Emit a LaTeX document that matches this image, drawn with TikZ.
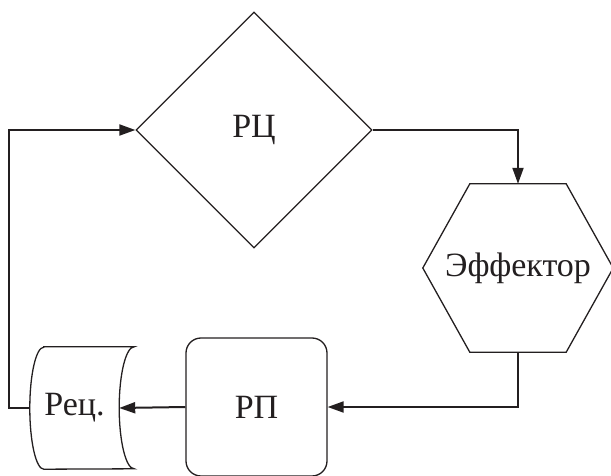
\documentclass[tikz,border=0pt]{standalone}
\usepackage{fontspec}
\setmainfont{Liberation Serif}
\usetikzlibrary{shapes.geometric,arrows.meta,calc}
\definecolor{ink}{HTML}{231F20}
\begin{document}
\begin{tikzpicture}[x=1pt,y=1pt,
  lbl/.style={font=\fontsize{34}{40}\selectfont,text=ink},
  shp/.style={lbl,draw=ink,line width=1.3pt,inner sep=0pt},
  outl/.style={draw=ink,line width=1.3pt},
  conn/.style={draw=ink,line width=2pt,-{Triangle[length=16pt,width=11pt]}}]
\useasboundingbox (0,0) rectangle (611,475);
\node[shp,diamond,minimum width=236pt,minimum height=236pt] (rc) at (254,345) {РЦ};
\node[lbl,inner sep=0pt,minimum width=190pt,minimum height=168pt] (ef) at (518,207) {Эффектор};
\draw[outl] (ef.west) -- ([xshift=47pt]ef.north west) -- ([xshift=-47pt]ef.north east)
  -- (ef.east) -- ([xshift=-47pt]ef.south east) -- ([xshift=47pt]ef.south west) -- cycle;
\node[shp,rectangle,rounded corners=15pt,minimum width=141pt,minimum height=138pt] (rp) at (256.5,68) {РП};
\node[lbl,inner sep=0pt,minimum width=89pt,minimum height=122pt] (rec) at (74.5,67) {Рец.};
\draw[outl] ([xshift=14pt]rec.north west) -- ([xshift=15pt]rec.north east)
  arc[start angle=90,end angle=270,x radius=15pt,y radius=61pt]
  -- ([xshift=14pt]rec.south west)
  arc[start angle=-90,end angle=-270,x radius=14pt,y radius=61pt] -- cycle;
\draw[conn] (rc.east) -| (ef.north);
\draw[conn] (ef.south) |- (rp.east);
\draw[conn] (rp.west) -- (rec.east);
\draw[conn] (rec.west) -- ++(-21,0) |- (rc.west);
\end{tikzpicture}
\end{document}
